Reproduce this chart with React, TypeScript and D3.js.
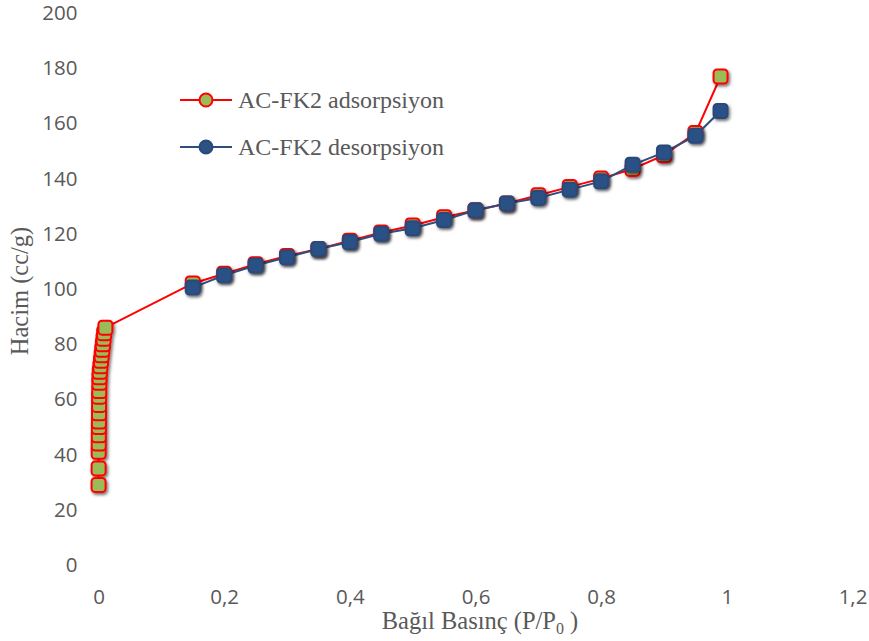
import React, { useEffect, useRef } from 'react';
import * as d3 from 'd3';

// adsorption branch
const adsP = [0.0001, 0.0002, 0.0003, 0.0004, 0.0005, 0.0006, 0.0007, 0.0008, 0.0009, 0.001, 0.0012, 0.0014, 0.0016, 0.002, 0.003, 0.004, 0.005, 0.006, 0.007, 0.008, 0.009, 0.011,
  0.15, 0.2, 0.25, 0.3, 0.35, 0.4, 0.45, 0.5, 0.55, 0.6, 0.65, 0.7, 0.75, 0.8, 0.85, 0.9, 0.95, 0.99];
const adsV = [29, 35, 41, 44, 47, 50, 52, 55, 58, 61, 63, 66, 68, 70, 72, 74, 76, 78, 80, 82, 84, 86,
  102, 105.5, 109, 112, 114.5, 117.5, 120.5, 123, 126, 128.5, 131, 134, 137, 140, 143.5, 148.5, 156.5, 177];

// desorption branch
const desP = [0.99, 0.95, 0.9, 0.85, 0.8, 0.75, 0.7, 0.65, 0.6, 0.55, 0.5, 0.45, 0.4, 0.35, 0.3, 0.25, 0.2, 0.15];
const desV = [164.5, 155.5, 149.5, 145, 139, 136, 133, 131, 128.5, 125, 122, 120, 117, 114.5, 111.5, 108.5, 105, 100.5];

const xTicks = [0, 0.2, 0.4, 0.6, 0.8, 1, 1.2];
const yTicks = [0, 20, 40, 60, 80, 100, 120, 140, 160, 180, 200];
const seriesNames = ['AC-FK2 adsorpsiyon', 'AC-FK2 desorpsiyon'];

const W = 869;
const H = 641;

const App = () => {
  const ref = useRef<SVGSVGElement>(null);

  useEffect(() => {
    if (!ref.current) return;
    const svg = d3.select(ref.current);
    svg.selectAll('*').remove();

    const x = d3.scaleLinear().domain([0, 1.2]).range([98.5, 852.5]);
    const y = d3.scaleLinear().domain([0, 200]).range([565, 13]);
    const fmt = (v: number) => String(v).replace('.', ',');
    const serif = '"Liberation Serif", "Times New Roman", serif';
    const sans = '"Open Sans", "Liberation Sans", sans-serif';

    const defs = svg.append('defs');
    const f = defs.append('filter').attr('id', 'shadow')
      .attr('x', '-50%').attr('y', '-50%').attr('width', '200%').attr('height', '200%');
    f.append('feDropShadow').attr('dx', 1.5).attr('dy', 2).attr('stdDeviation', 1.8)
      .attr('flood-color', '#000').attr('flood-opacity', 0.55);

    // axes (labels only)
    const xAxis = svg.append('g').attr('transform', `translate(0,${y(0)})`)
      .call(d3.axisBottom(x).tickValues(xTicks).tickFormat(d => fmt(+d)).tickSize(0).tickPadding(24));
    xAxis.select('.domain').remove();
    xAxis.selectAll('text').attr('font-family', sans)
      .attr('font-size', 20.5).attr('fill', '#595959');

    const yAxis = svg.append('g').attr('transform', `translate(${x(0)},0)`)
      .call(d3.axisLeft(y).tickValues(yTicks).tickSize(0).tickPadding(21));
    yAxis.select('.domain').remove();
    yAxis.selectAll('text').attr('font-family', sans)
      .attr('font-size', 20.5).attr('fill', '#595959');

    // axis titles
    svg.append('text')
      .attr('transform', `translate(28,${291}) rotate(-90)`)
      .attr('text-anchor', 'middle')
      .attr('font-family', serif)
      .attr('font-size', 24.5).attr('fill', '#595959')
      .text('Hacim (cc/g)');

    const xt = svg.append('text')
      .attr('x', 480).attr('y', 629)
      .attr('text-anchor', 'middle')
      .attr('font-family', serif)
      .attr('font-size', 24.5).attr('fill', '#595959');
    xt.append('tspan').text('Bağıl Basınç (P/P');
    xt.append('tspan').attr('font-size', 16).attr('dy', 5).text('0');
    xt.append('tspan').attr('dy', -5).text(' )');

    const line = d3.line<[number, number]>().x(d => x(d[0])).y(d => y(d[1]));
    const ads: [number, number][] = adsP.map((p, i) => [p, adsV[i]]);
    const des: [number, number][] = desP.map((p, i) => [p, desV[i]]);

    const ms = 14;
    const drawSeries = (data: [number, number][], stroke: string, fill: string, mstroke: string) => {
      const g = svg.append('g');
      g.append('path').datum(data).attr('d', line)
        .attr('fill', 'none').attr('stroke', stroke).attr('stroke-width', 2);
      g.append('g').attr('filter', 'url(#shadow)')
        .selectAll('rect').data(data).join('rect')
        .attr('x', d => x(d[0]) - ms / 2).attr('y', d => y(d[1]) - ms / 2)
        .attr('width', ms).attr('height', ms).attr('rx', 3.5)
        .attr('fill', fill).attr('stroke', mstroke).attr('stroke-width', 2);
    };
    drawSeries(ads, '#ff0000', '#9bbb59', '#ff0000');
    drawSeries(des, '#2d4f7f', '#2c5185', '#2a4a78');

    // legend
    const legend = [
      { name: seriesNames[0], stroke: '#ff0000', fill: '#9bbb59', mstroke: '#ff0000', yy: 100 },
      { name: seriesNames[1], stroke: '#2d4f7f', fill: '#2c5185', mstroke: '#2a4a78', yy: 147 },
    ];
    legend.forEach(l => {
      svg.append('line').attr('x1', 180).attr('x2', 232).attr('y1', l.yy).attr('y2', l.yy)
        .attr('stroke', l.stroke).attr('stroke-width', 2);
      svg.append('circle').attr('cx', 206).attr('cy', l.yy).attr('r', 6.5)
        .attr('fill', l.fill).attr('stroke', l.mstroke).attr('stroke-width', 2);
      svg.append('text').attr('x', 238).attr('y', l.yy + 8)
        .attr('font-family', serif)
        .attr('font-size', 24).attr('fill', '#595959')
        .text(l.name);
    });
  }, []);

  return <svg ref={ref} width={W} height={H} style={{ position: 'absolute', left: 0, top: 0, overflow: 'visible' }}></svg>;
};

export default App;
